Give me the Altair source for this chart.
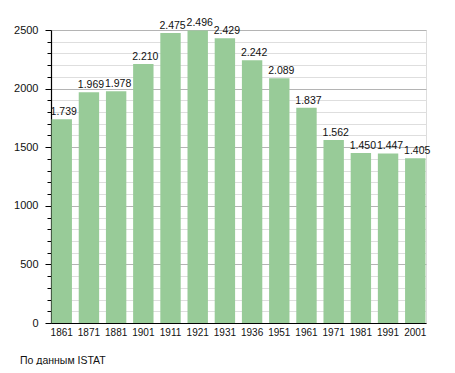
import altair as alt
import pandas as pd

years = ["1861", "1871", "1881", "1901", "1911", "1921", "1931", "1936",
         "1951", "1961", "1971", "1981", "1991", "2001"]
population = [1739, 1969, 1978, 2210, 2475, 2496, 2429, 2242,
              2089, 1837, 1562, 1450, 1447, 1405]
y_ticks = list(range(0, 2600, 100))
footer = "По данным  ISTAT"

labels = [f"{v:,}".replace(",", ".") for v in population]
df = pd.DataFrame({"year": years, "pop": population, "label": labels})

FONT = "Liberation Sans"

x = alt.X("year:N", sort=years, title=None,
          scale=alt.Scale(paddingInner=0.25, paddingOuter=0.02),
          axis=alt.Axis(labelAngle=0, ticks=False, domainColor="#000",
                        domainWidth=1.2, labelFontSize=10, labelColor="#111",
                        labelPadding=4, labelFont=FONT, labelOverlap=False))
y = alt.Y("pop:Q", title=None,
          scale=alt.Scale(domain=[0, 2500], nice=False),
          axis=alt.Axis(values=y_ticks, format="d", labelOverlap=False,
                        labelFlush=False,
                        labelExpr="datum.value % 500 === 0 ? datum.label : ''",
                        gridColor={"condition": {"test": "datum.value % 500 === 0", "value": "#b4b4b4"},
                                   "value": "#dedede"},
                        tickSize={"condition": {"test": "datum.value % 500 === 0", "value": 6},
                                  "value": 4},
                        tickColor="#000", domainColor="#000", domainWidth=1.2,
                        labelFontSize=11, labelColor="#111", labelPadding=7,
                        labelFont=FONT))

base = alt.Chart(df).encode(x=x, y=y)
bars = base.mark_bar(color="#98cb98")
text = base.mark_text(baseline="alphabetic", dy=-4, dx=2, fontSize=10.5,
                      color="#111", font=FONT).encode(text="label:N")
foot = alt.Chart(pd.DataFrame({"t": [footer]})).mark_text(
    align="left", baseline="middle", fontSize=10.5, color="#111", font=FONT
).encode(x=alt.value(-31), y=alt.value(331), text="t:N")

chart = alt.layer(bars, text, foot).properties(
    width=375, height=293,
    autosize=alt.AutoSizeParams(type="none"),
    padding={"left": 43, "top": 22, "right": 21, "bottom": 42},
).configure_view(stroke=None).configure(background="white")

chart.save("out.html", embed_options={"renderer": "svg", "actions": False})
